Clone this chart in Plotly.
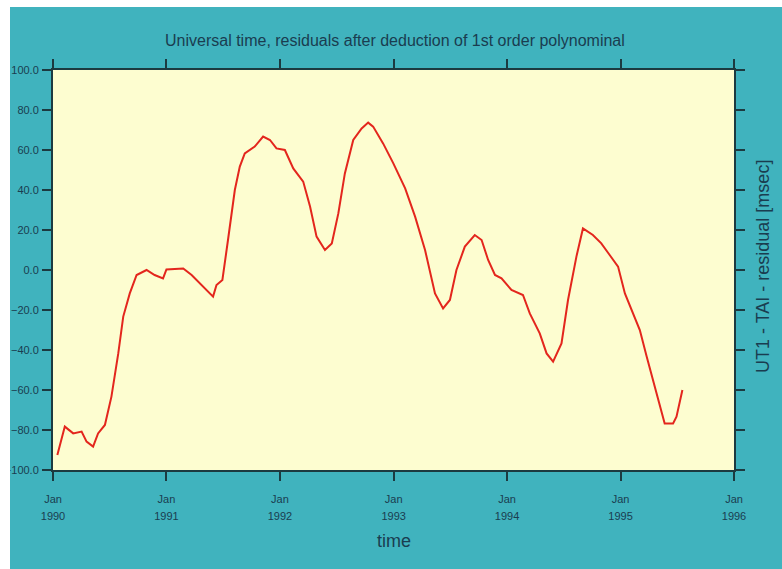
import plotly.graph_objects as go

# ---- data ----
dates = [
    "1990-01-15", "1990-02-08", "1990-03-07", "1990-04-03", "1990-04-19", "1990-05-10",
    "1990-05-26", "1990-06-17", "1990-07-08", "1990-07-30", "1990-08-15", "1990-09-05",
    "1990-09-27", "1990-10-29", "1990-11-24", "1990-12-21", "1991-01-01", "1991-02-24",
    "1991-03-23", "1991-04-29", "1991-05-31", "1991-06-11", "1991-06-30", "1991-07-18",
    "1991-08-09", "1991-08-25", "1991-09-10", "1991-10-12", "1991-11-08", "1991-11-30",
    "1991-12-21", "1992-01-17", "1992-02-13", "1992-03-16", "1992-04-07", "1992-04-28",
    "1992-05-25", "1992-06-16", "1992-07-07", "1992-07-28", "1992-08-24", "1992-09-20",
    "1992-10-11", "1992-10-27", "1992-11-28", "1992-12-31", "1993-02-07", "1993-03-11",
    "1993-04-12", "1993-05-14", "1993-06-09", "1993-07-01", "1993-07-22", "1993-08-18",
    "1993-09-19", "1993-10-11", "1993-11-01", "1993-11-23", "1993-12-14", "1994-01-15",
    "1994-02-21", "1994-03-15", "1994-04-16", "1994-05-08", "1994-05-29", "1994-06-25",
    "1994-07-16", "1994-08-12", "1994-09-02", "1994-10-04", "1994-10-31", "1994-11-27",
    "1994-12-24", "1995-01-15", "1995-02-11", "1995-03-04", "1995-03-26", "1995-04-27",
    "1995-05-23", "1995-06-19", "1995-06-30", "1995-07-19",
]
residual_ms = [
    -92.5, -78.3, -81.7, -80.8, -85.8, -88.3,
    -81.7, -77.5, -63.3, -41.7, -23.3, -11.7,
    -2.5, 0.0, -2.5, -4.2, 0.3, 0.8,
    -2.5, -8.3, -13.3, -7.5, -5.0, 15.0,
    40.0, 51.7, 58.3, 61.7, 66.7, 65.0,
    60.8, 60.0, 50.8, 44.2, 31.7, 16.7,
    10.0, 13.3, 28.3, 48.3, 65.0, 70.8,
    73.7, 71.7, 63.3, 53.3, 40.8, 26.7,
    10.0, -11.7, -19.2, -15.0, 0.0, 11.7,
    17.5, 15.0, 5.0, -2.5, -4.2, -10.0,
    -12.5, -21.7, -31.7, -41.7, -45.8, -36.7,
    -15.0, 6.7, 20.8, 17.5, 13.3, 7.5,
    1.7, -11.7, -21.7, -30.0, -43.3, -61.7,
    -76.7, -76.7, -73.3, -60.0,
]
x_range = ["1990-01-01", "1996-01-01"]
y_range = [-100, 100]

title_text = "Universal time, residuals after deduction of 1st order polynominal"
y_title = "UT1 - TAI - residual [msec]"
x_title = "time"

TEAL = "#40b3be"
PLOT_BG = "#fdfdd0"
AXIS = "#1c3a40"
TEXT = "#1a3d50"
RED = "#e3261d"
FONT = "Liberation Sans, Arial, sans-serif"

W, H = 782, 569
L, R, T, B = 53, 48, 70, 99
pw, ph = W - L - R, H - T - B

fig = go.Figure()
fig.add_trace(go.Scatter(x=dates, y=residual_ms, mode="lines",
                         line=dict(color=RED, width=2), showlegend=False,
                         hoverinfo="skip"))
# invisible companion trace so the year-label axis is drawn
fig.add_trace(go.Scatter(x=x_range, y=[None, None], xaxis="x2", yaxis="y",
                         mode="lines", showlegend=False, hoverinfo="skip"))

fig.update_layout(
    width=W, height=H,
    margin=dict(l=L, r=R, t=T, b=B, autoexpand=False),
    paper_bgcolor=TEAL, plot_bgcolor=PLOT_BG,
    font=dict(family=FONT, color=TEXT, size=11),
    title=dict(text=title_text, x=0.505, xanchor="center",
               y=1 - 40 / H, yanchor="middle", yref="container",
               font=dict(size=16, color=TEXT, family=FONT)),
    xaxis=dict(type="date", range=x_range, tick0="1990-01-01", dtick="M12",
               tickformat="%b", showgrid=False, zeroline=False, automargin=False,
               showline=True, linecolor=AXIS, linewidth=2, mirror="ticks",
               ticks="outside", ticklen=9, tickwidth=2, tickcolor=AXIS,
               tickfont=dict(size=11, color=TEXT), ticklabelstandoff=9),
    xaxis2=dict(type="date", range=x_range, tick0="1990-01-01", dtick="M12",
                tickformat="%Y", overlaying="x", anchor="y", side="bottom",
                showgrid=False, zeroline=False, showline=False, ticks="",
                automargin=False,
                tickfont=dict(size=11, color=TEXT), ticklabelstandoff=38),
    yaxis=dict(range=y_range, dtick=20, tick0=0, tickformat=".1f",
               showgrid=False, zeroline=False, automargin=False,
               showline=True, linecolor=AXIS, linewidth=2, mirror="ticks",
               ticks="outside", ticklen=9, tickwidth=2, tickcolor=AXIS,
               tickfont=dict(size=11, color=TEXT), ticklabelstandoff=1),
    annotations=[
        dict(text=y_title, textangle=-90, xref="paper", yref="paper",
             x=(763 - L) / pw, y=(470 - 267) / ph, showarrow=False,
             xanchor="center", yanchor="middle",
             font=dict(size=18, color=TEXT, family=FONT)),
        dict(text=x_title, xref="paper", yref="paper",
             x=(394 - L) / pw, y=(470 - 541) / ph, showarrow=False,
             xanchor="center", yanchor="middle",
             font=dict(size=18, color=TEXT, family=FONT)),
    ],
    shapes=[
        dict(type="rect", xref="paper", yref="paper", layer="above",
             x0=-L / pw - 0.01, x1=(10 - L) / pw, y0=-0.3, y1=1.3,
             fillcolor="white", line=dict(width=0)),
        dict(type="rect", xref="paper", yref="paper", layer="above",
             x0=-0.1, x1=1.1, y0=(470 - 7) / ph, y1=1.3,
             fillcolor="white", line=dict(width=0)),
    ],
)

fig.write_html("out.html")
